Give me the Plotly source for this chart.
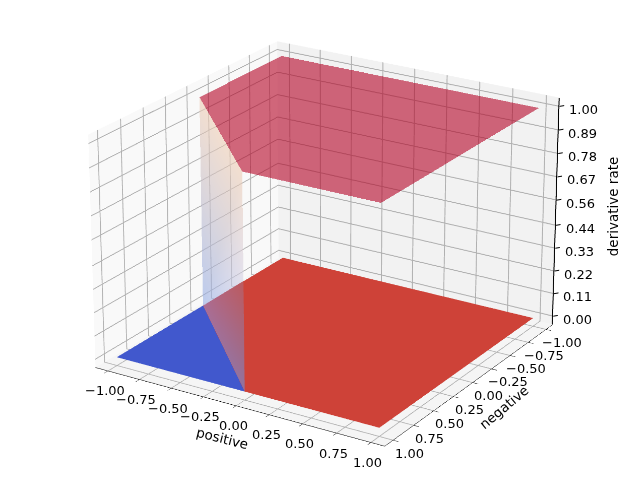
import math
import plotly.graph_objects as go

# axis values
tick_vals = [-1.0, -0.75, -0.5, -0.25, 0.0, 0.25, 0.5, 0.75, 1.0]
tick_text = ["\u22121.00", "\u22120.75", "\u22120.50", "\u22120.25", "0.00", "0.25", "0.50", "0.75", "1.00"]
z_vals = [0.0, 0.11, 0.22, 0.33, 0.44, 0.56, 0.67, 0.78, 0.89, 1.0]
z_text = ["0.00", "0.11", "0.22", "0.33", "0.44", "0.56", "0.67", "0.78", "0.89", "1.00"]

# flat region at rate 1
plate_x = [-1, 1, 1, 0, -1]
plate_y = [-1, -1, 1, 1, 0]
plate_z = [1, 1, 1, 1, 1]

# step between the two regions, upper part is see-through
wall_x = [-1, 0, 0, -1]
wall_y = [0, 1, 1, 0]
wall_z = [0, 0.51, 1, 1]
wall_colors = ["#93ace6", "#d6d2e6", "#eecdb4", "#eecdb4"]

# part of the step that is seen against the red floor
step_x = [-1, 0, 0]
step_y = [0, 1, 1]
step_z = [0, 0, 0.51]
step_colors = ["#aa6e96", "#91739f", "#bd5a5e"]

# filled contours on the floor
blue_x = [-1, 0, -1]
blue_y = [1, 1, 0]
blue_z = [0, 0, 0]
red_x = [-1, 1, 1, 0, -1]
red_y = [-1, -1, 1, 1, 0]
red_z = [0, 0, 0, 0, 0]

XY_RANGE = 1.1
Z_RANGE = [-0.04, 1.04]

FONT = "DejaVu Sans"
FLAT = dict(ambient=1, diffuse=0, specular=0, roughness=1, fresnel=0)

# plotly has a fixed field of view, so a bigger scene is the only way to a weak perspective
SCENE_H = 2513
SCENE_W = SCENE_H * 4 // 3
SHIFT_X = 8
SHIFT_Y = -7


def axis_style(vals, rng, pane, ticks=True):
    return dict(
        title=dict(text=""),
        range=rng,
        tickmode="array",
        tickvals=vals,
        showticklabels=False,
        ticks="outside" if ticks else "",
        ticklen=5,
        tickcolor="#000000",
        showgrid=True,
        gridcolor="#b0b0b0",
        gridwidth=2,
        showline=ticks,
        linecolor="#000000",
        linewidth=1,
        zeroline=False,
        showbackground=True,
        backgroundcolor=pane,
        showspikes=False,
    )


def note(x, y, z, text, dx, dy, angle=0, size=13):
    return dict(x=x, y=y, z=z, text=text, showarrow=False, xshift=dx, yshift=dy, textangle=angle,
                font=dict(family=FONT, size=size, color="#000000"))


fig = go.Figure()

fig.add_trace(go.Mesh3d(x=red_x, y=red_y, z=red_z, i=[0, 0, 0], j=[1, 2, 3], k=[2, 3, 4],
                        color="#ce4238", opacity=1, flatshading=True, lighting=FLAT, hoverinfo="skip"))
fig.add_trace(go.Mesh3d(x=blue_x, y=blue_y, z=blue_z, i=[0], j=[1], k=[2],
                        color="#4158cd", opacity=1, flatshading=True, lighting=FLAT, hoverinfo="skip"))
fig.add_trace(go.Mesh3d(x=step_x, y=step_y, z=step_z, i=[0], j=[1], k=[2],
                        vertexcolor=step_colors, opacity=1, lighting=FLAT, hoverinfo="skip"))
fig.add_trace(go.Mesh3d(x=wall_x, y=wall_y, z=wall_z, i=[0, 0], j=[1, 2], k=[2, 3],
                        vertexcolor=wall_colors, opacity=0.6, lighting=FLAT, hoverinfo="skip"))
fig.add_trace(go.Mesh3d(x=plate_x, y=plate_y, z=plate_z, i=[0, 0, 0], j=[1, 2, 3], k=[2, 3, 4],
                        color="#b40426", opacity=0.6, flatshading=True, lighting=FLAT, hoverinfo="skip"))

# z axis sits on the right in the reference, plotly would put it on the left
# (just inside the box, anything outside the range gets clipped)
fig.add_trace(go.Scatter3d(x=[XY_RANGE - 0.004, XY_RANGE - 0.004], y=[-XY_RANGE + 0.004, -XY_RANGE + 0.004], z=Z_RANGE,
                           mode="lines", line=dict(color="#000000", width=2), hoverinfo="skip"))

notes = []
for v, t in zip(tick_vals, tick_text):
    notes.append(note(v, XY_RANGE, Z_RANGE[0], t, -3, -20))
    notes.append(note(XY_RANGE, v, Z_RANGE[0], t, 16, -13))
for v, t in zip(z_vals, z_text):
    notes.append(note(XY_RANGE, -XY_RANGE, v, t, 24, -3))
    notes.append(dict(x=XY_RANGE, y=-XY_RANGE, z=v, text=" ", showarrow=True, ax=6, ay=-1,
                      arrowhead=0, arrowwidth=1, arrowcolor="#000000", standoff=0,
                      font=dict(family=FONT, size=1)))
notes.append(note(XY_RANGE, -XY_RANGE, 0.5, "derivative rate", 56, 7, angle=-90, size=13.5))
notes.append(note(0, XY_RANGE, Z_RANGE[0], "positive", -14, -32, angle=14, size=13.5))
notes.append(note(XY_RANGE, 0, Z_RANGE[0], "negative", 31, -24, angle=-40, size=13.5))

dist = 9.0
elev = math.radians(22)
azim = math.radians(-58)

fig.update_layout(
    width=SCENE_W,
    height=SCENE_H,
    margin=dict(l=0, r=0, t=0, b=0),
    paper_bgcolor="#ffffff",
    showlegend=False,
    scene=dict(
        domain=dict(x=[0, 1], y=[0, 1]),
        aspectmode="manual",
        aspectratio=dict(x=1, y=1, z=0.735),
        camera=dict(
            projection=dict(type="perspective"),
            up=dict(x=0, y=0, z=1),
            center=dict(x=0, y=0, z=0),
            eye=dict(x=dist * math.cos(elev) * math.cos(azim),
                     y=dist * math.cos(elev) * math.sin(azim),
                     z=dist * math.sin(elev)),
        ),
        xaxis=axis_style(tick_vals, [-XY_RANGE, XY_RANGE], "#f9f9f9"),
        yaxis=axis_style(tick_vals, [XY_RANGE, -XY_RANGE], "#f2f2f2"),
        zaxis=axis_style(z_vals, Z_RANGE, "#f5f5f5", ticks=False),
        annotations=notes,
    ),
)

# centre the oversized scene in the 640x480 window
post = (
    "document.body.style.margin='0';document.body.style.overflow='hidden';"
    "document.documentElement.style.overflow='hidden';"
    "var gd=document.getElementById('{plot_id}');gd.style.position='absolute';"
    f"gd.style.left='{(640 - SCENE_W) // 2 + SHIFT_X}px';gd.style.top='{(480 - SCENE_H) // 2 + SHIFT_Y}px';"
)

fig.write_html("out.html", post_script=post)
